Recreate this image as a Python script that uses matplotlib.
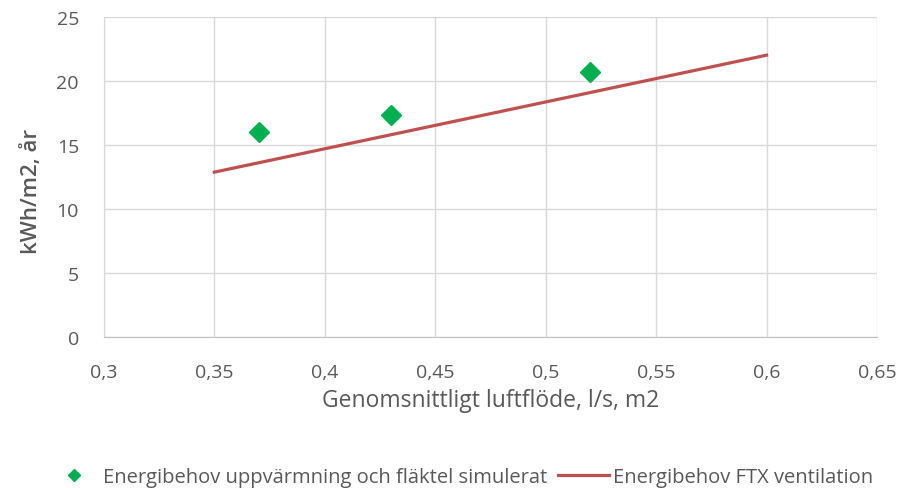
import matplotlib
matplotlib.use("Agg")
import matplotlib.pyplot as plt
from matplotlib.ticker import FuncFormatter

# simulerade punkter
luftflode_sim = [0.37, 0.43, 0.52]
energi_sim = [16.05, 17.35, 20.75]

# FTX-linje
luftflode_ftx = [0.35, 0.6]
energi_ftx = [12.9, 22.05]

x_ticks = [0.3, 0.35, 0.4, 0.45, 0.5, 0.55, 0.6, 0.65]
y_ticks = [0, 5, 10, 15, 20, 25]

grey = "#595959"
plt.rcParams["font.family"] = ["Open Sans", "DejaVu Sans"]

fig = plt.figure(figsize=(9.05, 4.89), dpi=100)
ax = fig.add_axes([0.1149, 0.3088, 0.8541, 0.6534])

ax.plot(luftflode_sim, energi_sim, linestyle="none", marker="D", markersize=10,
        color="#00b050", label="Energibehov uppvärmning och fläktel simulerat", zorder=3)
ax.plot(luftflode_ftx, energi_ftx, color="#c0504d", linewidth=2.3,
        label="Energibehov FTX ventilation", zorder=2)

ax.set_xlim(0.3, 0.65)
ax.set_ylim(0, 25)
ax.set_xticks(x_ticks)
ax.set_yticks(y_ticks)
ax.xaxis.set_major_formatter(FuncFormatter(lambda v, p: f"{v:g}".replace(".", ",")))
ax.grid(True, color="#d9d9d9", linewidth=1)
ax.set_axisbelow(True)
ax.tick_params(length=0, labelsize=14, colors=grey)
ax.tick_params(axis="x", pad=19)
ax.tick_params(axis="y", pad=18)
for s in ["top", "right"]:
    ax.spines[s].set_visible(False)
ax.spines["left"].set_color("#d9d9d9")
ax.spines["bottom"].set_color("#bfbfbf")

ax.set_xlabel("Genomsnittligt luftflöde, l/s, m2", fontsize=16.5, color=grey, labelpad=5)
ax.set_ylabel("kWh/m2, år", fontsize=16, color=grey, fontweight="semibold")
ax.yaxis.set_label_coords(-0.08, 0.46)

fig.legend(loc="center", bbox_to_anchor=(0.509, 0.023), ncol=2, frameon=False,
           fontsize=14.5, labelcolor=grey, markerscale=0.65, handlelength=2.5,
           handletextpad=0.2, columnspacing=0.55)

fig.savefig("out.png", dpi=100)
